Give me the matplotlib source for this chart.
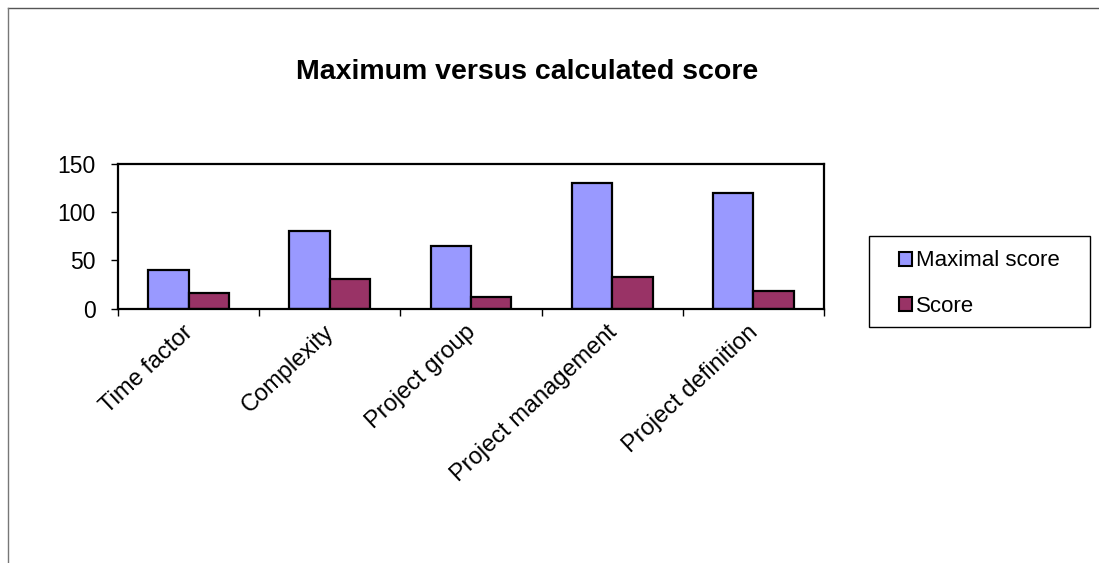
import matplotlib
matplotlib.use("Agg")
import matplotlib.pyplot as plt
import matplotlib.transforms as mtransforms
from matplotlib.lines import Line2D
from matplotlib.patches import Rectangle
import numpy as np

categories = ["Time factor", "Complexity", "Project group", "Project management", "Project definition"]
maximal_score = [40, 80, 65, 130, 120]
score = [16, 31, 12, 33, 18]
series_names = ["Maximal score", "Score"]
yticks = [0, 50, 100, 150]
title = "Maximum versus calculated score"

plt.rcParams['font.family'] = ['Liberation Sans', 'DejaVu Sans']

W, H = 1099, 563
fig = plt.figure(figsize=(W/100, H/100), dpi=100)
ax = fig.add_axes([118/W, 1 - 308.5/H, (824-118)/W, (308.5-164)/H])

x = np.arange(len(categories))
w = 0.286
ax.bar(x - w/2, maximal_score, width=w, color="#9999FF", edgecolor="black", linewidth=1.6, label=series_names[0])
ax.bar(x + w/2, score, width=w, color="#993366", edgecolor="black", linewidth=1.6, label=series_names[1])

ax.set_xlim(-0.5, len(categories) - 0.5)
ax.set_ylim(0, 150)
ax.set_yticks(yticks)
ax.set_yticklabels([str(t) for t in yticks], fontsize=16.5)
ax.set_xticks(np.arange(len(categories) + 1) - 0.5)
ax.set_xticklabels([])
ax.set_xticks(x, minor=True)
ax.set_xticklabels(categories, minor=True, rotation=43, ha="right", rotation_mode="anchor", fontsize=17)
ax.tick_params(axis="x", which="minor", length=0, pad=9)
ax.tick_params(axis="x", which="major", length=5, width=1, color="black", direction="out")
ax.tick_params(axis="y", length=5, width=1, direction="out", pad=11)
offset = mtransforms.ScaledTranslation(-6/100, 0, fig.dpi_scale_trans)
for lbl in ax.get_xticklabels(minor=True):
    lbl.set_transform(lbl.get_transform() + offset)
for s in ax.spines.values():
    s.set_linewidth(1.6)
    s.set_color("black")

fig.text(527/W, 1 - 72/H, title, ha="center", va="center", fontsize=20.5, fontweight="bold")

# legend frame
fig.add_artist(Rectangle((869/W, 1 - 327/H), (1090-869)/W, (327-236)/H, transform=fig.transFigure,
                         facecolor="white", edgecolor="black", linewidth=1.0))
handles = [Rectangle((0, 0), 1, 1, facecolor="#9999FF", edgecolor="black", linewidth=1.5),
           Rectangle((0, 0), 1, 1, facecolor="#993366", edgecolor="black", linewidth=1.5)]
leg = fig.legend(handles, series_names, loc="center left", bbox_to_anchor=(899/W, 1 - 283.5/H),
                 frameon=False, fontsize=16,
                 handlelength=0.6, handleheight=0.6, handletextpad=0.15, labelspacing=1.08,
                 borderpad=0, borderaxespad=0)

fig.add_artist(Line2D([8/W, 1], [1 - 8/H, 1 - 8/H], color="#555555", linewidth=1.0, transform=fig.transFigure))
fig.add_artist(Line2D([8/W, 8/W], [1 - 8/H, 0], color="#777777", linewidth=1.0, transform=fig.transFigure))

fig.savefig("out.png", dpi=100)
